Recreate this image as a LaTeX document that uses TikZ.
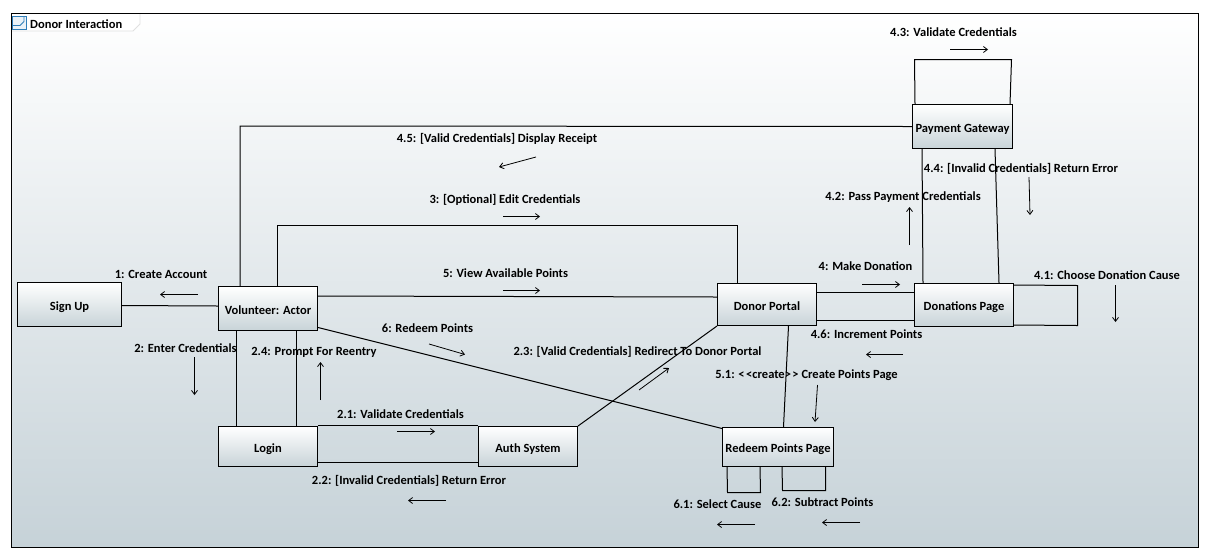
\documentclass[tikz,border=0pt]{standalone}
\usepackage{fontspec}
\setmainfont{Carlito}
\usetikzlibrary{arrows.meta}
\definecolor{framegrey}{HTML}{C6D2D8}
\definecolor{boxgrey}{HTML}{C8D3D8}
\definecolor{iconblue}{HTML}{2F7DB8}
\tikzset{
  lifebox/.style={draw=black,line width=1pt,top color=white,bottom color=boxgrey,inner sep=0pt,text height=11.5pt,text depth=0pt,font=\fontsize{12.5}{14}\selectfont\bfseries},
  msg/.style={inner sep=0pt,text height=8pt,text depth=0pt,font=\fontsize{12.5}{14}\selectfont\bfseries},
  link/.style={draw=black,line width=1pt},
  flow/.style={draw=black,line width=0.8pt,-{Straight Barb[length=4pt,width=6pt]}}
}
\begin{document}
\begin{tikzpicture}[x=1pt,y=-1pt]
  \useasboundingbox (0,0) rectangle (1209,558);
  % frame and tab
  \path[top color=white,bottom color=framegrey] (11.5,13.5) rectangle (1198.5,547.5);
  \draw[draw=black!12,fill=white,line width=0.8pt] (11.5,13.5) -- (140,13.5) -- (140,24) -- (133,31) -- (11.5,31) -- cycle;
  \draw[draw=black,line width=1pt] (11.5,13.5) rectangle (1198.5,547.5);
  \draw[draw=iconblue,fill=iconblue!10,line width=0.9pt] (12.5,16.5) rectangle (26.5,29.5);
  \draw[draw=iconblue,line width=0.9pt] (12.5,25.5) -- (20,25.5) -- (24,21.5) -- (24,16.5);
  \node[msg,anchor=west] (title) at (30,24) {Donor Interaction};

  % objects
  \node[lifebox,minimum width=104pt,minimum height=44pt] (signup) at (69.5,304.5) {Sign Up};
  \node[lifebox,minimum width=99pt,minimum height=44pt] (volunteer) at (268,308.5) {Volunteer: Actor};
  \node[lifebox,minimum width=99pt,minimum height=40pt] (login) at (268,446.5) {Login};
  \node[lifebox,minimum width=99pt,minimum height=40pt] (auth) at (528,446.5) {Auth System};
  \node[lifebox,minimum width=99pt,minimum height=42pt] (portal) at (767,304.5) {Donor Portal};
  \node[lifebox,minimum width=99pt,minimum height=43pt] (donations) at (964,305) {Donations Page};
  \node[lifebox,minimum width=111pt,minimum height=39pt] (redeem) at (778,447) {Redeem Points Page};
  \node[lifebox,minimum width=100pt,minimum height=44pt] (gateway) at (962.5,126.5) {Payment Gateway};

  % links
  \draw[link] ([yshift=-1]signup.east) -- ([yshift=2.5]volunteer.west);
  \draw[link] ([xshift=22]volunteer.north west) -- ++(0,-160) -- (gateway.west);
  \draw[link] ([xshift=59]volunteer.north west) -- ++(0,-61) -| ([xshift=20]portal.north west);
  \draw[link] ([yshift=-10]volunteer.north east) -- ([yshift=-14]portal.north west);
  \draw[link] ([yshift=3.5]volunteer.south east) -- ([yshift=-1.5]redeem.north west);
  \draw[link] ([xshift=18]volunteer.south west) -- ([xshift=18]login.north west);
  \draw[link] ([xshift=78]volunteer.south west) -- ([xshift=78]login.north west);
  \draw[link] ([yshift=1]login.north east) -- ([yshift=1]auth.north west);
  \draw[link] ([yshift=4.5]login.south east) -- ([yshift=4.5]auth.south west);
  \draw[link] (auth.north east) -- (portal.south west);
  \draw[link] ([xshift=21.5]portal.south) -- ([xshift=5.5]redeem.north);
  \draw[link] ([yshift=-9]portal.north east) -- ([yshift=-9]donations.north west);
  \draw[link] ([yshift=6]portal.south east) -- ([yshift=7]donations.south west);
  \draw[link] ([xshift=10]gateway.south west) -- ([xshift=9]donations.north west);
  \draw[link] ([xshift=-18]gateway.south east) -- ([xshift=-15]donations.north east);
  % self links
  \draw[link] ([yshift=-2]donations.north east) -- (1077.5,285.5) -- (1077.5,325.5) -- ([yshift=2]donations.south east);
  \draw[link] ([xshift=3]gateway.north west) -- (914.5,59.5) -- (1011.5,59.5) -- ([xshift=-3]gateway.north east);
  \draw[link] ([xshift=5]redeem.south west) -- (727.5,492.5) -- (760.5,492.5) -- ([xshift=38]redeem.south west);
  \draw[link] ([xshift=60]redeem.south west) -- (782.5,490.5) -- (825.5,490.5) -- ([xshift=-8.5]redeem.south east);

  % messages
  \node[msg] (m1) at (161,274) {1: Create Account};
  \node[msg] (m2) at (185.5,348) {2: Enter Credentials};
  \node[msg] (m24) at (314,351) {2.4: Prompt For Reentry};
  \node[msg] (m6) at (427.5,328) {6: Redeem Points};
  \node[msg] (m21) at (400.5,414) {2.1: Validate Credentials};
  \node[msg] (m22) at (409,480) {2.2: [Invalid Credentials] Return Error};
  \node[msg] (m23) at (637.5,351) {2.3: [Valid Credentials] Redirect To Donor Portal};
  \node[msg] (m51) at (806.5,374) {5.1: <\kern1.5pt<create>\kern1.5pt> Create Points Page};
  \node[msg] (m46) at (866.5,334) {4.6: Increment Points};
  \node[msg] (m61) at (717.5,504) {6.1: Select Cause};
  \node[msg] (m62) at (822.5,502) {6.2: Subtract Points};
  \node[msg] (m4) at (865.5,266) {4: Make Donation};
  \node[msg] (m41) at (1107,275) {4.1: Choose Donation Cause};
  \node[msg] (m5) at (505.5,273) {5: View Available Points};
  \node[msg] (m3) at (505,199) {3: [Optional] Edit Credentials};
  \node[msg] (m45) at (497,138) {4.5: [Valid Credentials] Display Receipt};
  \node[msg] (m42) at (903,196) {4.2: Pass Payment Credentials};
  \node[msg] (m44) at (1021,168) {4.4: [Invalid Credentials] Return Error};
  \node[msg] (m43) at (953.5,32) {4.3: Validate Credentials};

  % message arrows
  \foreach \fname/\xa/\ya/\xb/\yb in {
      f1/198/294.5/160/294.5, f2/194.5/357/194.5/395, f24/320.5/400/320.5/362,
      f6/429/344/465/354.5, f21/397/431.5/435/431.5, f22/446/500.5/408/500.5,
      f23/639/390/669/368, f51/817.5/385/815/422, f46/903/354.5/866/354.5,
      f61/755/524.5/717/524.5, f62/860/522.5/822/522.5, f4/862/284.5/900/284.5,
      f5/503/290.5/540/290.5, f3/503/216.5/540/216.5, f45/536/157/499/167,
      f42/909.5/245/909.5/207, f44/1029/177/1030/215, f41/1115.5/285/1115.5/322,
      f43/950/49.5/988/49.5}{
    \coordinate (\fname a) at (\xa,\ya);
    \coordinate (\fname b) at (\xb,\yb);
    \draw[flow] (\fname a) -- (\fname b);
  }
\end{tikzpicture}
\end{document}
